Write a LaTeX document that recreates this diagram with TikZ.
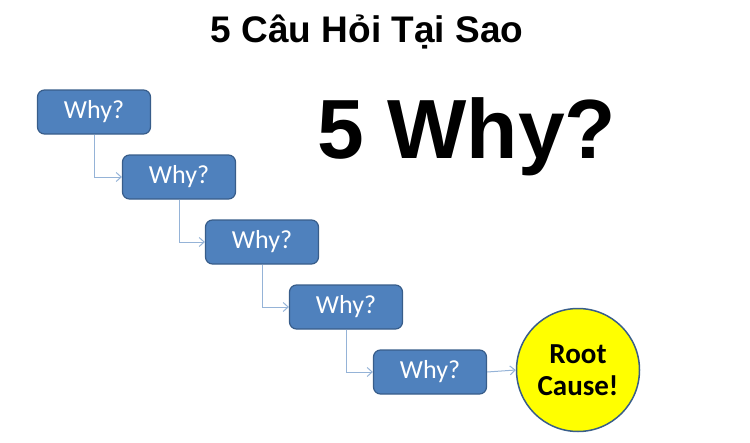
\documentclass[tikz,border=0pt]{standalone}
\usepackage{fontspec}
\setmainfont{Liberation Sans}
\newfontfamily\carlito{Carlito}
\usetikzlibrary{arrows.meta}
\definecolor{boxfill}{HTML}{4F81BD}
\definecolor{boxedge}{HTML}{385D8A}
\definecolor{linkcol}{HTML}{95B3D7}
\definecolor{rootfill}{HTML}{FFFF00}
\tikzset{
  whybox/.style={draw=boxedge, line width=1.2pt, fill=boxfill, rounded corners=7pt,
    minimum width=113pt, minimum height=44pt, inner sep=0pt,
    text=white, font=\carlito\fontsize{26}{30}\selectfont},
  link/.style={draw=linkcol, line width=1pt, -{Straight Barb[length=5pt,width=9pt]}},
  rootnode/.style={circle, draw=boxedge, line width=1.5pt, fill=rootfill,
    minimum size=123pt, inner sep=0pt, align=center,
    font=\carlito\bfseries\fontsize{29}{32}\selectfont}
}
\begin{document}
\begin{tikzpicture}[x=1pt,y=-1pt]
\useasboundingbox (0,0) rectangle (750,442);
\node[font=\bfseries\fontsize{37}{40}\selectfont] (title) at (367,32) {5 Câu Hỏi Tại Sao};
\node[font=\bfseries\fontsize{84}{90}\selectfont] (big) at (467,137) {5 Why?};
\node[whybox] (w1) at (94,112) {Why?};
\node[whybox] (w2) at (179,177) {Why?};
\node[whybox] (w3) at (262,242) {Why?};
\node[whybox] (w4) at (346,307) {Why?};
\node[whybox] (w5) at (430,372) {Why?};
\node[rootnode] (root) at (578,370) {Root\\Cause!};
\draw[link] (w1.south) |- (w2.west);
\draw[link] (w2.south) |- (w3.west);
\draw[link] (w3.south) |- (w4.west);
\draw[link] (w4.south) |- (w5.west);
\draw[link] (w5.east) -- (root.west);
\end{tikzpicture}
\end{document}
